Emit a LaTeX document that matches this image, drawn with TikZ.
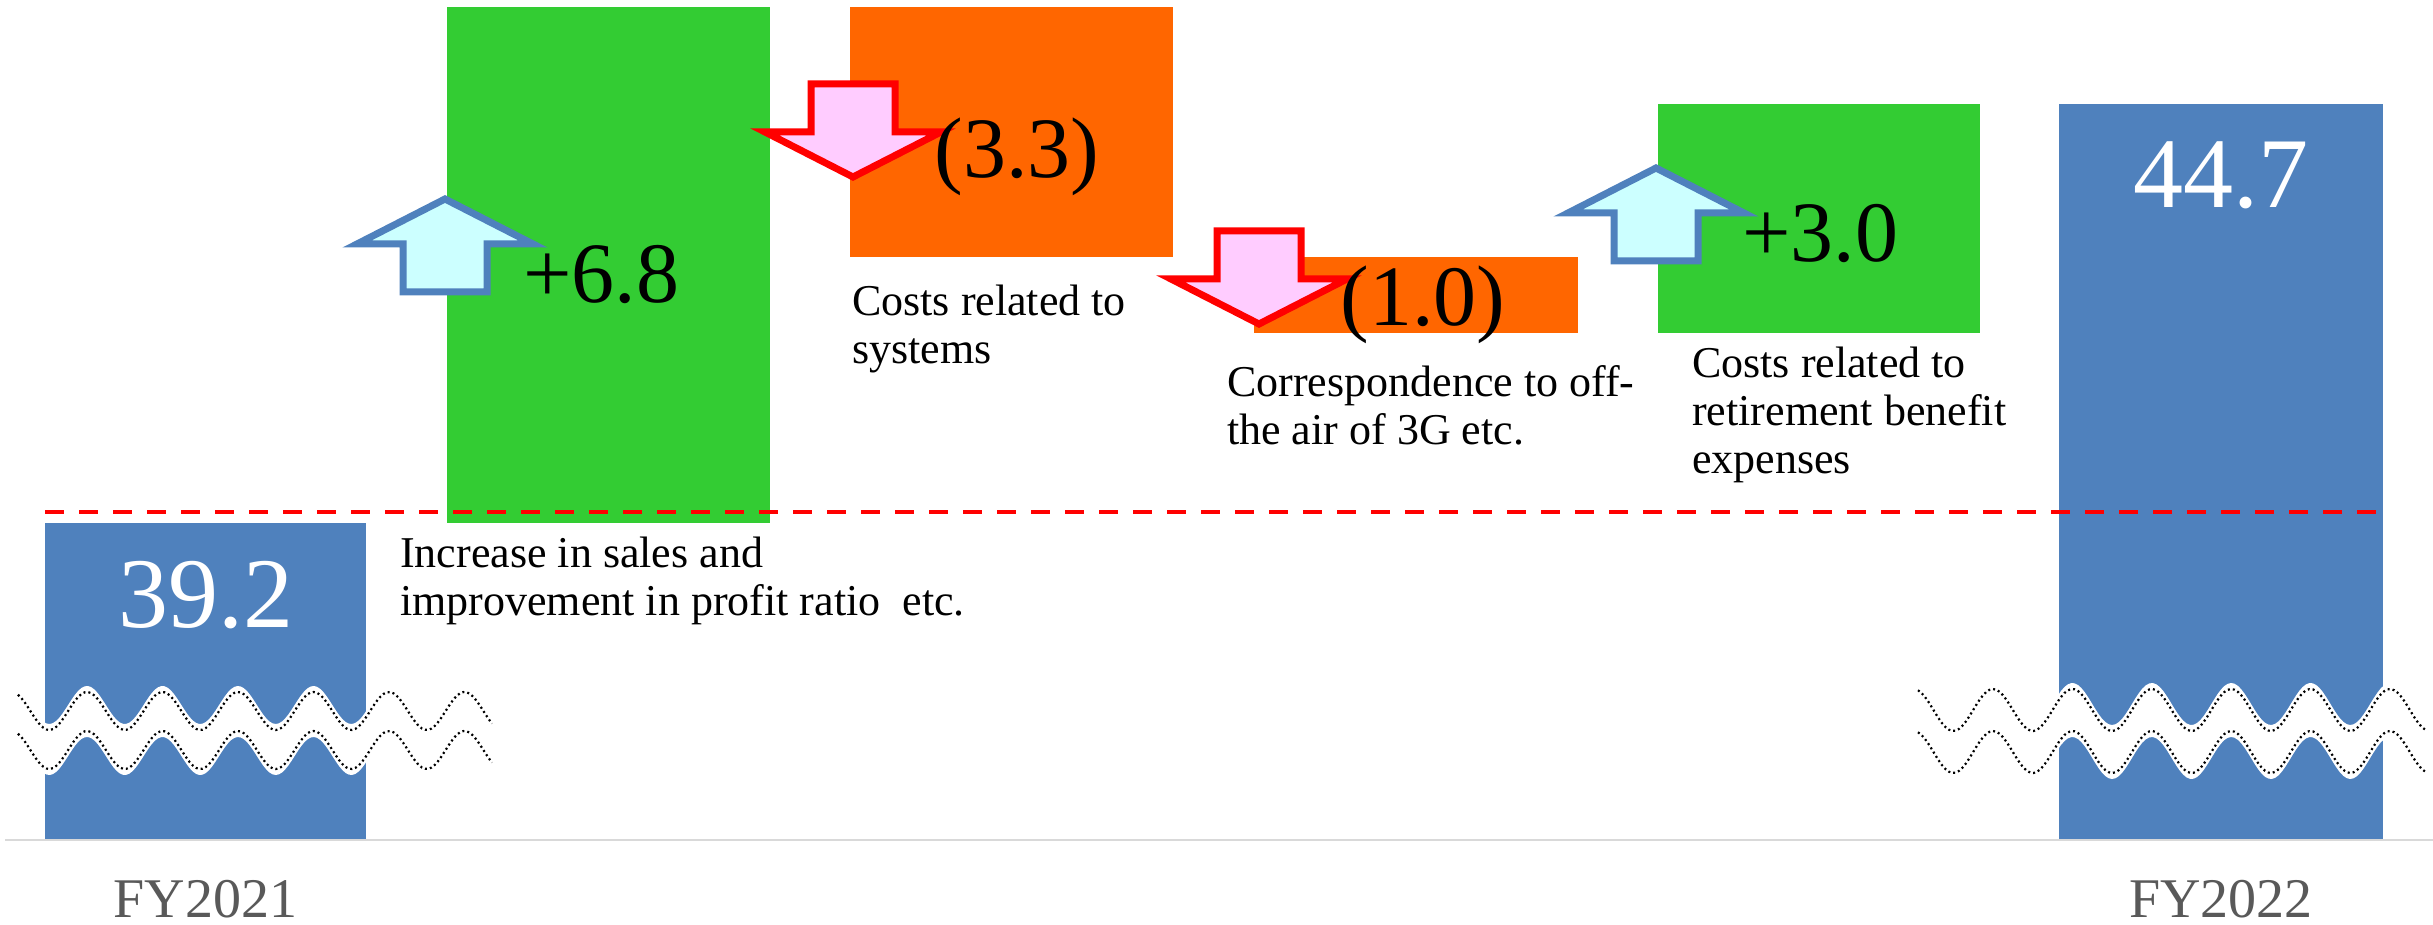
\documentclass[tikz,border=0pt]{standalone}
\usepackage{fontspec}
\setmainfont{Liberation Serif}
\usepackage{tikz}
\usetikzlibrary{positioning}

\definecolor{barblue}{HTML}{4F81BD}
\definecolor{upgreen}{HTML}{33CC33}
\definecolor{downorange}{HTML}{FF6600}
\definecolor{upfill}{HTML}{CCFFFF}
\definecolor{downfill}{HTML}{FFCCFF}
\definecolor{axisgray}{HTML}{D9D9D9}
\definecolor{yeargray}{HTML}{595959}

\begin{document}
\begin{tikzpicture}[x=1pt, y=-1pt,
  bar/.style={draw=none, inner sep=0, outer sep=0, anchor=north west},
  total/.style={inner sep=0, anchor=base, text=white, font=\fontsize{100}{110}\selectfont},
  val/.style={inner sep=0, anchor=base, font=\fontsize{86}{90}\selectfont},
  note/.style={inner sep=0, anchor=north west, align=left, font=\fontsize{44}{48}\selectfont},
  year/.style={inner sep=0, anchor=base, text=yeargray, font=\fontsize{56}{60}\selectfont},
  breakline/.style={black, line width=2.2pt, dash pattern=on 2pt off 3pt},
  uparr/.pic={\path[draw=barblue, fill=upfill, line width=7pt]
    (0,0) -- (-88,45) -- (-42,45) -- (-42,93) -- (42,93) -- (42,45) -- (88,45) -- cycle;},
  downarr/.pic={\path[draw=red, fill=downfill, line width=7pt]
    (0,0) -- (-88,-45) -- (-42,-45) -- (-42,-93) -- (42,-93) -- (42,-45) -- (88,-45) -- cycle;}]
\useasboundingbox (0,0) rectangle (2433,925);

\node[bar, fill=barblue, minimum width=321, minimum height=316] (fy1) at (45,523) {};
\node[bar, fill=upgreen, minimum width=323, minimum height=516] (up1) at (447,7) {};
\node[bar, fill=downorange, minimum width=323, minimum height=250] (dn1) at (850,7) {};
\node[bar, fill=downorange, minimum width=324, minimum height=76] (dn2) at (1254,257) {};
\node[bar, fill=upgreen, minimum width=322, minimum height=229] (up2) at (1658,104) {};
\node[bar, fill=barblue, minimum width=324, minimum height=735] (fy2) at (2059,104) {};

\draw[axisgray, line width=2.5pt] (5,840) -- (2433,840);
\draw[red, line width=4pt, dash pattern=on 19pt off 15pt] (45,512) -- (2381,512);

\foreach \s/\e/\o/\p/\m/\a/\d in {18/492/87/75.5/711/19/39, 1918/2425/1993/79.4/710/21/42} {
  \fill[white] plot[domain=\s:\e, samples=150] (\x, {\m-6-\a*cos((360/\p)*(\x-\o))})
    -- plot[domain=\e:\s, samples=150] (\x, {\m+\d+6-\a*cos((360/\p)*(\x-\o))}) -- cycle;
  \draw[breakline] plot[domain=\s:\e, samples=150] (\x, {\m-\a*cos((360/\p)*(\x-\o))});
  \draw[breakline] plot[domain=\s:\e, samples=150] (\x, {\m+\d-\a*cos((360/\p)*(\x-\o))});
}

\pic at (445,199) {uparr};
\pic at (853,177) {downarr};
\pic at (1259,324) {downarr};
\pic at (1656,168) {uparr};

\node[total] (v1) at (fy1.north |- 0,627) {39.2};
\node[val] (v2) at (601,302) {+6.8};
\node[val] (v3) at (1017,178) {(3.3)};
\node[val] (v4) at (1423,325) {(1.0)};
\node[val] (v5) at (1820,262) {+3.0};
\node[total] (v6) at (fy2.north |- 0,208) {44.7};

\node[note] (n1) at (400,537) {Increase in sales and\\improvement in profit ratio~ etc.};
\node[note] (n2) at (852,285) {Costs related to\\systems};
\node[note] (n3) at (1227,365) {Correspondence to off-\\the air of 3G etc.};
\node[note] (n4) at (1692,347) {Costs related to\\retirement benefit\\expenses};

\node[year] (y1) at (fy1.south |- 0,917) {FY2021};
\node[year] (y2) at (fy2.south |- 0,917) {FY2022};
\end{tikzpicture}
\end{document}
